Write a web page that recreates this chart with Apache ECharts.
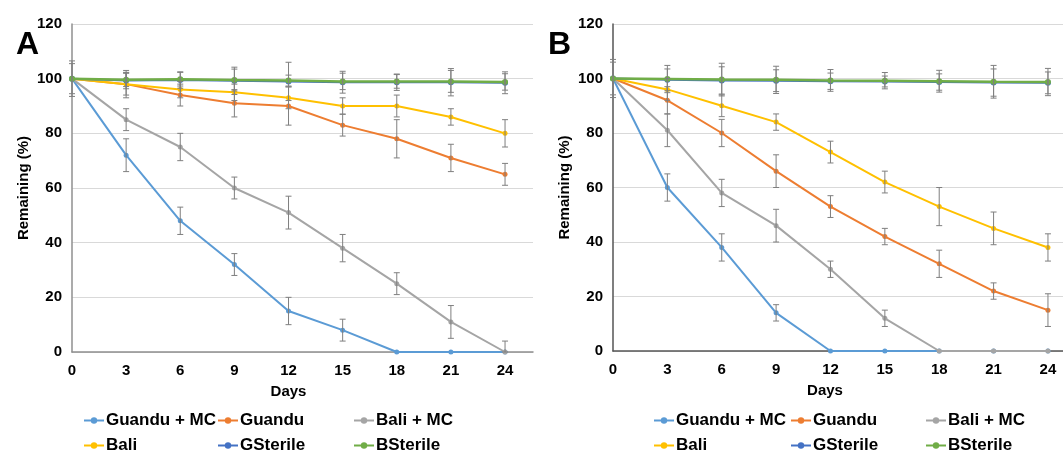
<!DOCTYPE html>
<html>
<head>
<meta charset="utf-8">
<script src="https://cdn.jsdelivr.net/npm/echarts@6/dist/echarts.min.js"></script>
<style>
html,body{margin:0;padding:0;background:#fff;}
#chart{width:1063px;height:453px;}
</style>
</head>
<body>
<div id="chart"></div>
<script>
// ---- Data ----
const days = [0, 3, 6, 9, 12, 15, 18, 21, 24];
const seriesNames = ['Guandu + MC', 'Guandu', 'Bali + MC', 'Bali', 'GSterile', 'BSterile'];
const seriesColors = ['#5B9BD5', '#ED7D31', '#A5A5A5', '#FFC000', '#4472C4', '#70AD47'];
const xTickLabels = ['0', '3', '6', '9', '12', '15', '18', '21', '24'];
const yTickLabels = ['0', '20', '40', '60', '80', '100', '120'];

// Panel A values (% remaining) and error (+/-)
const aGuanduMC = [100, 72, 48, 32, 15, 8, 0, 0, 0];
const aGuanduMCErr = [0, 6, 5, 4, 5, 4, 0, 0, 0];
const aGuandu = [100, 98, 94, 91, 90, 83, 78, 71, 65];
const aGuanduErr = [0, 5, 4, 5, 7, 4, 7, 5, 4];
const aBaliMC = [100, 85, 75, 60, 51, 38, 25, 11, 0];
const aBaliMCErr = [0, 4, 5, 4, 6, 5, 4, 6, 4];
const aBali = [100, 98, 96, 95, 93, 90, 90, 86, 80];
const aBaliErr = [0, 4, 3, 3, 4, 3, 4, 3, 5];
const aGSterile = [100, 99.3, 99.5, 99.2, 99.0, 98.7, 98.7, 98.7, 98.5];
const aGSterileErr = [6.5, 3, 3, 5, 7, 4, 3, 5, 4];
const aBSterile = [100, 99.6, 99.8, 99.5, 99.3, 99.0, 99.0, 99.0, 98.8];
const aBSterileErr = [5.5, 2.5, 2.5, 4, 2, 3, 2.5, 4, 3];

// Panel B values (% remaining) and error (+/-)
const bGuanduMC = [100, 60, 38, 14, 0, 0, 0, 0, 0];
const bGuanduMCErr = [0, 5, 5, 3, 0, 0, 0, 0, 0];
const bGuandu = [100, 92, 80, 66, 53, 42, 32, 22, 15];
const bGuanduErr = [0, 5, 5, 6, 4, 3, 5, 3, 6];
const bBaliMC = [100, 81, 58, 46, 30, 12, 0, 0, 0];
const bBaliMCErr = [0, 6, 5, 6, 3, 3, 0, 0, 0];
const bBali = [100, 96, 90, 84, 73, 62, 53, 45, 38];
const bBaliErr = [0, 4, 4, 3, 4, 4, 7, 6, 5];
const bGSterile = [100, 99.5, 99.3, 99.2, 99.0, 98.9, 98.7, 98.5, 98.4];
const bGSterileErr = [7, 4, 5, 4, 3, 2, 3, 5, 4];
const bBSterile = [100, 99.8, 99.6, 99.5, 99.3, 99.2, 99.0, 98.8, 98.7];
const bBSterileErr = [6, 5, 6, 5, 4, 3, 4, 6, 5];

const panelA = [aGuanduMC, aGuandu, aBaliMC, aBali, aGSterile, aBSterile];
const panelAErr = [aGuanduMCErr, aGuanduErr, aBaliMCErr, aBaliErr, aGSterileErr, aBSterileErr];
const panelB = [bGuanduMC, bGuandu, bBaliMC, bBali, bGSterile, bBSterile];
const panelBErr = [bGuanduMCErr, bGuanduErr, bBaliMCErr, bBaliErr, bGSterileErr, bBSterileErr];

// ---- Build chart ----
const FONT = '"Liberation Sans", Arial, sans-serif';
const chart = echarts.init(document.getElementById('chart'), null, {renderer: 'canvas'});

const grids = [
  {left: 72, top: 24, width: 461, height: 328},
  {left: 613, top: 24, width: 450, height: 327}
];
const xMax = [25.55, 24.83];
const axisColor = ['#8f8f8f', '#555555'];

function xAxisFor(i) {
  return {
    type: 'value', gridIndex: i, min: 0, max: xMax[i], interval: 3,
    name: 'Days', nameLocation: 'middle', nameGap: 32,
    nameTextStyle: {fontFamily: FONT, fontWeight: 'bold', fontSize: 15, color: '#000',
      padding: [0, i === 0 ? 28 : 26, 0, 0]},
    axisLine: {show: true, onZero: false, lineStyle: {color: axisColor[i], width: 1.5}},
    axisTick: {show: false},
    splitLine: {show: false},
    axisLabel: {
      fontFamily: FONT, fontWeight: 'bold', fontSize: 15, color: '#000', margin: 11,
      showMaxLabel: false,
      formatter: function (v) {
        const idx = days.indexOf(v);
        return idx >= 0 ? xTickLabels[idx] : '';
      }
    }
  };
}
function yAxisFor(i) {
  return {
    type: 'value', gridIndex: i, min: 0, max: 120, interval: 20,
    name: 'Remaining (%)', nameLocation: 'middle', nameGap: 41, nameRotate: 90,
    nameTextStyle: {fontFamily: FONT, fontWeight: 'bold', fontSize: 15, color: '#000'},
    axisLine: {show: true, lineStyle: {color: axisColor[i], width: 1.5}},
    axisTick: {show: false},
    splitLine: {show: true, lineStyle: {color: '#d9d9d9', width: 1}},
    axisLabel: {
      fontFamily: FONT, fontWeight: 'bold', fontSize: 15, color: '#000', margin: 10,
      formatter: function (v) { return yTickLabels[Math.round(v / 20)]; }
    }
  };
}

const series = [];
[panelA, panelB].forEach(function (panel, p) {
  const errs = p === 0 ? panelAErr : panelBErr;
  panel.forEach(function (vals, s) {
    series.push({
      name: seriesNames[s], type: 'line', xAxisIndex: p, yAxisIndex: p,
      data: days.map(function (d, k) { return [d, vals[k]]; }),
      symbol: 'circle', symbolSize: s >= 4 ? 6 : 5,
      lineStyle: {color: seriesColors[s], width: s === 5 ? 2.5 : 2},
      itemStyle: {color: seriesColors[s]},
      z: 2 + s, animation: false
    });
  });
  // error bars
  const ebData = [];
  panel.forEach(function (vals, s) {
    days.forEach(function (d, k) {
      const e = errs[s][k];
      if (e > 0) ebData.push([d, Math.max(0, vals[k] - e), vals[k] + e]);
    });
  });
  series.push({
    type: 'custom', xAxisIndex: p, yAxisIndex: p, z: 20, silent: true, animation: false,
    data: ebData, encode: {x: 0, y: [1, 2]}, clip: false,
    renderItem: function (params, api) {
      const lo = api.coord([api.value(0), api.value(1)]);
      const hi = api.coord([api.value(0), api.value(2)]);
      const w = 3;
      const st = {stroke: '#7f7f7f', lineWidth: 1};
      return {type: 'group', children: [
        {type: 'line', shape: {x1: lo[0], y1: lo[1], x2: hi[0], y2: hi[1]}, style: st},
        {type: 'line', shape: {x1: lo[0] - w, y1: lo[1], x2: lo[0] + w, y2: lo[1]}, style: st},
        {type: 'line', shape: {x1: hi[0] - w, y1: hi[1], x2: hi[0] + w, y2: hi[1]}, style: st}
      ]};
    }
  });
});

// legends: 3 columns x 2 rows per panel
const legendCols = [[83, 217, 353], [653, 790, 925]];
const legendRows = [412, 437];
const legends = [];
[0, 1].forEach(function (p) {
  seriesNames.forEach(function (nm, s) {
    legends.push({
      left: legendCols[p][s % 3], top: legendRows[Math.floor(s / 3)],
      data: [nm], padding: 0, itemWidth: 20, itemHeight: 8, selectedMode: false,
      textStyle: {fontFamily: FONT, fontWeight: 'bold', fontSize: 17, color: '#000', padding: [0, 0, 0, -3]}
    });
  });
});

chart.setOption({
  animation: false,
  backgroundColor: '#fff',
  title: [
    {text: 'A', left: 11, top: 24, textStyle: {fontFamily: FONT, fontWeight: 'bold', fontSize: 32, color: '#000'}},
    {text: 'B', left: 543, top: 24, textStyle: {fontFamily: FONT, fontWeight: 'bold', fontSize: 32, color: '#000'}}
  ],
  grid: grids,
  xAxis: [xAxisFor(0), xAxisFor(1)],
  yAxis: [yAxisFor(0), yAxisFor(1)],
  legend: legends,
  series: series
});
</script>
</body>
</html>
